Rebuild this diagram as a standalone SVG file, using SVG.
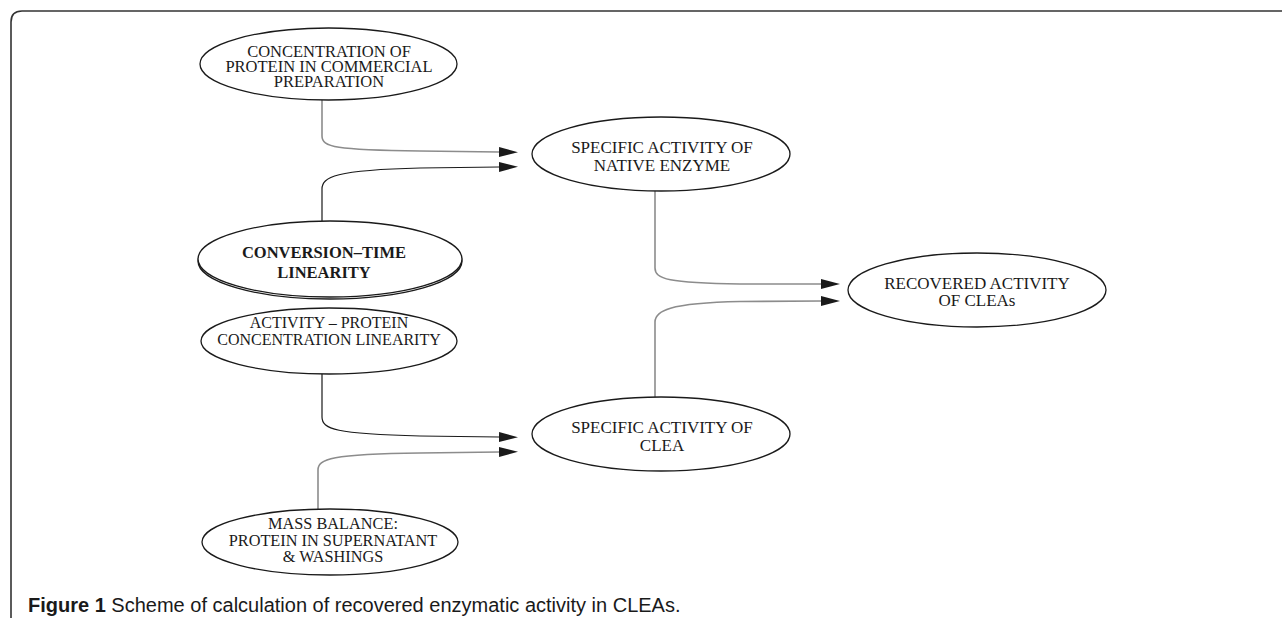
<svg xmlns="http://www.w3.org/2000/svg" width="1282" height="618" viewBox="0 0 1282 618">
<style>
.nd{fill:#fff;stroke:#1a1a1a;stroke-width:1.3}
.t{font-family:"Liberation Serif",serif;fill:#1a1a1a;text-anchor:middle}
.g{fill:none;stroke:#8c8c8c;stroke-width:1.6}
.k{fill:none;stroke:#1a1a1a;stroke-width:1.2}
.cap{font-family:"Liberation Sans",Arial,sans-serif;font-size:20px;fill:#1a1a1a}
</style>
<defs>
<marker id="ah" markerUnits="userSpaceOnUse" markerWidth="20" markerHeight="12" refX="0" refY="5" orient="auto" viewBox="0 0 20 12">
<path d="M0,0 L19,5 L0,10 Z" fill="#1a1a1a"/>
</marker>
</defs>
<rect width="1282" height="618" fill="#fff"/>
<path d="M11,618 V22 Q11,11 22,11 H1282" fill="none" stroke="#333" stroke-width="1.6"/>
<g id="connectors">
<path class="g" d="M322,100 V136 C322,147 335,150 420,151 L499,152" marker-end="url(#ah)"/>
<path class="k" d="M322,221 V189 C322,177 335,170 420,168 L499,167" marker-end="url(#ah)"/>
<path class="k" d="M322,374 V417 C322,429 335,434 420,436 L499,437" marker-end="url(#ah)"/>
<path class="g" d="M318,509 V470 C318,459 331,454 420,453 L499,452" marker-end="url(#ah)"/>
<path class="g" d="M655,191 V268 C655,279 668,283 740,284 L821,284" marker-end="url(#ah)"/>
<path class="g" d="M655,397 V322 C655,311 668,303 740,301.5 L821,301" marker-end="url(#ah)"/>
</g>
<g id="n1">
<ellipse class="nd" cx="328.5" cy="64" rx="128.5" ry="36"/>
<text class="t" font-size="16.5"><tspan x="329" y="57">CONCENTRATION OF</tspan><tspan x="329" y="72">PROTEIN IN COMMERCIAL</tspan><tspan x="329" y="87">PREPARATION</tspan></text>
</g>
<g id="n2">
<ellipse class="nd" cx="661" cy="154" rx="129" ry="37"/>
<text class="t" font-size="17"><tspan x="662" y="153">SPECIFIC ACTIVITY OF</tspan><tspan x="662" y="171">NATIVE ENZYME</tspan></text>
</g>
<g id="n3">
<ellipse cx="330" cy="261" rx="132" ry="38" fill="none" stroke="#1a1a1a" stroke-width="1.3"/>
<ellipse class="nd" cx="330" cy="259" rx="132" ry="38"/>
<text class="t" font-size="16.5" font-weight="bold"><tspan x="324" y="258">CONVERSION–TIME</tspan><tspan x="324" y="278">LINEARITY</tspan></text>
</g>
<g id="n4">
<ellipse class="nd" cx="329" cy="341" rx="128" ry="33"/>
<text class="t" font-size="16"><tspan x="329" y="328">ACTIVITY – PROTEIN</tspan><tspan x="329" y="345">CONCENTRATION LINEARITY</tspan></text>
</g>
<g id="n5">
<ellipse class="nd" cx="661" cy="434" rx="129" ry="37"/>
<text class="t" font-size="17"><tspan x="662" y="433">SPECIFIC ACTIVITY OF</tspan><tspan x="662" y="451">CLEA</tspan></text>
</g>
<g id="n6">
<ellipse class="nd" cx="977" cy="290" rx="129" ry="37"/>
<text class="t" font-size="17"><tspan x="977" y="289">RECOVERED ACTIVITY</tspan><tspan x="977" y="306">OF CLEAs</tspan></text>
</g>
<g id="n7">
<ellipse class="nd" cx="330" cy="542" rx="128" ry="33"/>
<text class="t" font-size="16.3"><tspan x="333" y="529">MASS BALANCE:</tspan><tspan x="333" y="546">PROTEIN IN SUPERNATANT</tspan><tspan x="333" y="562">&amp; WASHINGS</tspan></text>
</g>
<text class="cap" x="28" y="612"><tspan font-weight="bold">Figure 1</tspan> Scheme of calculation of recovered enzymatic activity in CLEAs.</text>
</svg>
